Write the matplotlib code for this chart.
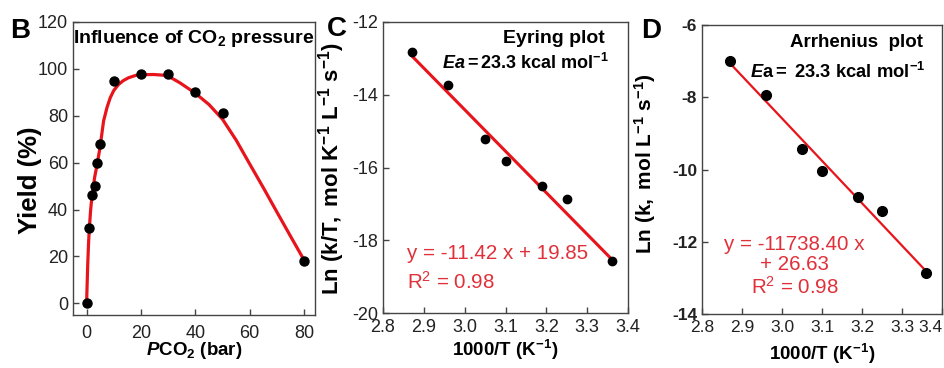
import matplotlib
matplotlib.use("Agg")
import matplotlib.pyplot as plt
import numpy as np

plt.rcParams['font.family'] = ['Liberation Sans', 'DejaVu Sans']
plt.rcParams['mathtext.fontset'] = 'custom'
plt.rcParams['mathtext.rm'] = 'Liberation Sans'
plt.rcParams['mathtext.it'] = 'Liberation Sans:italic'
plt.rcParams['mathtext.bf'] = 'Liberation Sans:bold'
plt.rcParams['mathtext.bfit'] = 'Liberation Sans:bold:italic'
plt.rcParams['axes.unicode_minus'] = False

# ---- Panel B data ----
pressure = [0, 1, 2, 3, 4, 5, 10, 20, 30, 40, 50, 80]
yield_pct = [0, 32, 46, 50, 60, 68, 95, 98, 98, 90, 81, 18]
# fitted curve
curve_x = [0, 0.2, 0.4, 0.7, 1, 1.5, 2, 3, 4, 5, 6.25, 7.5, 8.7, 10, 11.8, 13.5, 15.4, 18, 20,
           24.6, 29.6, 34.4, 40, 45, 50, 55, 60, 65, 70, 75, 80]
curve_y = [0, 8, 16, 25, 32, 40, 46, 54, 60, 67, 77.8, 83.5, 87.7, 90.8, 93.4, 95, 96.2, 97.2, 97.5,
           97.6, 97.2, 94, 89.6, 84.8, 78.5, 69.6, 59.4, 49.3, 38.9, 28.6, 18.4]

# ---- Panel C / D data ----
inv_T = [2.87, 2.96, 3.05, 3.10, 3.19, 3.25, 3.36]
eyring_y = [-12.83, -13.73, -15.22, -15.81, -16.5, -16.87, -18.58]
arrhenius_y = [-7.01, -7.94, -9.44, -10.03, -10.77, -11.14, -12.87]
eyring_fit = (-11.42, 19.85)
arrhenius_fit = (-11.7384, 26.63)
inv_T_ticks = [2.8, 2.9, 3.0, 3.1, 3.2, 3.3, 3.4]

W, H = 945, 368
fig = plt.figure(figsize=(W / 100, H / 100), dpi=100)

def add_ax(l, r, t, b):
    return fig.add_axes([l / W, 1 - b / H, (r - l) / W, (b - t) / H])

axB = add_ax(73, 315, 22, 315)
axC = add_ax(383, 628, 22, 313)
axD = add_ax(702, 942, 25, 314)

RED = '#e8141c'
TXTRED = '#e0303a'
for ax in (axB, axC, axD):
    for s in ax.spines.values():
        s.set_color('#444444')
        s.set_linewidth(1.0)
    ax.tick_params(direction='in', length=4, width=1, color='#444444', top=False, right=False,
                   labelcolor='#222222')

# Panel B
axB.plot(curve_x, curve_y, color=RED, lw=2.3, zorder=2)
axB.plot(pressure, yield_pct, 'o', color='black', ms=6.5, zorder=3)
axB.set_xlim(-5, 84)
axB.set_ylim(-5, 120)
axB.set_xticks([0, 20, 40, 60, 80])
axB.set_yticks([0, 20, 40, 60, 80, 100, 120])
axB.tick_params(labelsize=13)
axB.tick_params(axis='x', pad=7)
axB.set_ylabel('Yield (%)', fontsize=18.5, fontweight='bold')
axB.yaxis.set_label_coords(-0.128, 0.46)
axB.set_xlabel(r'$\mathbfit{P}\mathbf{CO_2}$' + ' (bar)', fontsize=13.5, fontweight='bold')
axB.xaxis.set_label_coords(0.5, -0.085)
axB.text(0.5, 0.945, r'$\mathbf{Influence\ of\ CO_2\ pressure}$', transform=axB.transAxes,
         ha='center', va='center', fontsize=14)

# Panel C
xl = np.array([inv_T[0], inv_T[-1]])
axC.plot(xl, eyring_fit[0] * xl + eyring_fit[1], color=RED, lw=2.2, zorder=2)
axC.plot(inv_T, eyring_y, 'o', color='black', ms=6, zorder=3)
axC.set_xlim(2.8, 3.4)
axC.set_ylim(-20, -12)
axC.set_xticks(inv_T_ticks)
axC.set_xticklabels([f'{v:.1f}' for v in inv_T_ticks])
axC.set_yticks([-20, -18, -16, -14, -12])
axC.tick_params(labelsize=13)
axC.tick_params(axis='x', pad=4)
axC.set_ylabel(r'$\mathbf{Ln\ (k/T,\ mol\ K^{-1}\ L^{-1}\ s^{-1})}$', fontsize=16)
axC.yaxis.set_label_coords(-0.147, 0.495)
axC.set_xlabel(r'$\mathbf{1000/T\ (K^{-1})}$', fontsize=13.5)
axC.xaxis.set_label_coords(0.5, -0.085)
axC.text(0.906, 0.945, 'Eyring plot', transform=axC.transAxes, ha='right', va='center',
         fontsize=14, fontweight='bold')
axC.text(0.92, 0.86, r'$\mathbfit{Ea}\mathbf{=23.3\ kcal\ mol^{-1}}$', transform=axC.transAxes,
         ha='right', va='center', fontsize=13)
axC.text(0.098, 0.206, 'y = -11.42 x + 19.85', transform=axC.transAxes, ha='left', va='center',
         fontsize=14.8, color=TXTRED)
axC.text(0.098, 0.107, r'R$^2$ = 0.98', transform=axC.transAxes, ha='left', va='center',
         fontsize=14.8, color=TXTRED)

# Panel D
axD.plot(xl, arrhenius_fit[0] * xl + arrhenius_fit[1], color=RED, lw=1.6, zorder=2)
axD.plot(inv_T, arrhenius_y, 'o', color='black', ms=7, zorder=3)
axD.set_xlim(2.8, 3.4)
axD.set_ylim(-14, -6)
axD.set_xticks(inv_T_ticks)
axD.set_xticklabels([f'{v:.1f}' for v in inv_T_ticks])
axD.set_yticks([-14, -12, -10, -8, -6])
axD.tick_params(labelsize=12.5)
axD.tick_params(axis='x', pad=4)
for lab in axD.get_yticklabels():
    lab.set_fontweight('bold')
axD.get_xticklabels()[-1].set_horizontalalignment('right')
axD.set_ylabel(r'$\mathbf{Ln\ (k,\ mol\ L^{-1}\ s^{-1})}$', fontsize=15)
axD.yaxis.set_label_coords(-0.183, 0.52)
axD.set_xlabel(r'$\mathbf{1000/T\ (K^{-1})}$', fontsize=13.5)
axD.xaxis.set_label_coords(0.5, -0.095)
axD.text(0.92, 0.938, 'Arrhenius  plot', transform=axD.transAxes, ha='right', va='center',
         fontsize=13.5, fontweight='bold')
axD.text(0.93, 0.837, r'$\mathbfit{E}\mathbf{a=\ 23.3\ kcal\ mol^{-1}}$', transform=axD.transAxes,
         ha='right', va='center', fontsize=13.2)
axD.text(0.386, 0.239, 'y = -11738.40 x', transform=axD.transAxes, ha='center', va='center',
         fontsize=14.8, color=TXTRED)
axD.text(0.386, 0.17, '+ 26.63', transform=axD.transAxes, ha='center', va='center',
         fontsize=14.8, color=TXTRED)
axD.text(0.386, 0.093, r'R$^2$ = 0.98', transform=axD.transAxes, ha='center', va='center',
         fontsize=14.8, color=TXTRED)

# Panel letters
fig.text(10 / W, 1 - 38 / H, 'B', fontsize=20, fontweight='bold', ha='left', va='baseline')
fig.text(327 / W, 1 - 36 / H, 'C', fontsize=20, fontweight='bold', ha='left', va='baseline')
fig.text(641 / W, 1 - 38 / H, 'D', fontsize=20, fontweight='bold', ha='left', va='baseline')

fig.savefig('out.png', dpi=100)
